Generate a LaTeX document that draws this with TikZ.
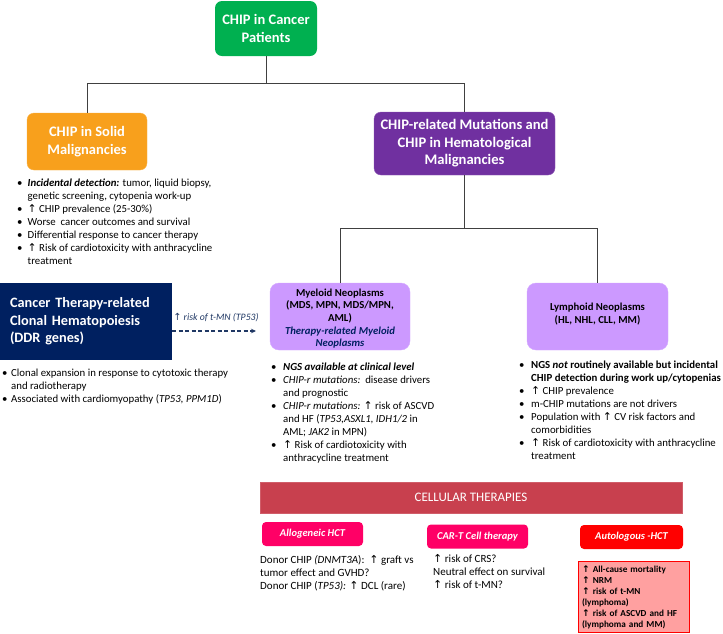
\documentclass[tikz,border=0pt]{standalone}
\usepackage{fontspec}
\setmainfont{Carlito}
\newfontfamily\arrfont{DejaVu Sans}
\newcommand\up{{\arrfont\mdseries\upshape ↑}}
\newcommand\upb{{\arrfont\bfseries\upshape ↑}}
\usetikzlibrary{arrows.meta}
\definecolor{cgreen}{HTML}{00B050}
\definecolor{corange}{HTML}{F8A01C}
\definecolor{cpurple}{HTML}{7030A0}
\definecolor{clav}{HTML}{CC99FF}
\definecolor{cnavy}{HTML}{002060}
\definecolor{cbar}{HTML}{C8404E}
\definecolor{cpink}{HTML}{FF0066}
\definecolor{cred}{HTML}{FF0000}
\definecolor{cautofill}{HTML}{FFA0A0}
\definecolor{linegray}{HTML}{404040}
\definecolor{darkblue}{HTML}{203864}
\begin{document}
\begin{tikzpicture}[x=1pt,y=-1pt,
  conn/.style={draw=linegray, line width=1pt},
  tbox/.style={rounded corners=7pt, text=white, font=\bfseries\fontsize{14.5}{17.5}\selectfont, align=center, inner sep=0pt},
  lbox/.style={rounded corners=9pt, fill=clav, draw=clav!85!white, inner sep=0pt, minimum height=67pt},
  ltext/.style={font=\bfseries\fontsize{10.7}{12.7}\selectfont, align=center, inner sep=0pt},
  blist/.style={anchor=north west, inner sep=0pt, font=\fontsize{10.8}{13}\selectfont, align=left},
  hbox/.style={rounded corners=4pt, text=white, font=\bfseries\itshape\fontsize{10.5}{12}\selectfont, inner sep=0pt, minimum width=101pt, minimum height=24pt},
  plain/.style={anchor=north west, inner sep=0pt, font=\fontsize{11}{13.2}\selectfont, align=left}
]
\useasboundingbox (0,0) rectangle (723,633);

% top level
\node[tbox, fill=cgreen, minimum width=102pt, minimum height=55pt] (top) at (266,28.5) {CHIP in Cancer\\Patients};
\node[tbox, fill=corange, draw=corange!80!white, minimum width=120pt, minimum height=57pt] (solid) at (87,141.5) {CHIP in Solid\\Malignancies};
\node[tbox, fill=cpurple, draw=cpurple!80!white, minimum width=181pt, minimum height=63pt, font=\bfseries\fontsize{14.6}{17.5}\selectfont] (hem) at (464.5,143.5) {CHIP-related Mutations and\\CHIP in Hematological\\Malignancies};

\draw[conn] (top.south) -- ++(0,27) coordinate (j1);
\draw[conn] (solid.north) |- (j1) -| (hem.north);

% myeloid / lymphoid
\node[lbox, minimum width=140pt] (myel) at (340,316.5) {};
\node[ltext] (myeltext) at (340,318.5) {Myeloid Neoplasms\\(MDS, MPN, MDS/MPN,\\AML)\\{\color{cnavy}\itshape Therapy-related Myeloid}\\{\color{cnavy}\itshape Neoplasms}};
\node[lbox, minimum width=141pt] (lymph) at (597.5,316.5) {};
\node[ltext] (lymphtext) at (597.5,314) {Lymphoid Neoplasms\\(HL, NHL, CLL, MM)};

\draw[conn] (hem.south) -- ++(0,53) coordinate (j2);
\draw[conn] (myel.north) |- (j2) -| (lymph.north);

% navy box
\node[fill=cnavy, minimum width=172pt, minimum height=77pt, text width=152pt, inner xsep=10pt, inner ysep=0pt, align=left, text=white, font=\bfseries\fontsize{14.3}{17.5}\selectfont] (ther) at (86,321.5) {Cancer Therapy-related\\Clonal Hematopoiesis\\(DDR genes)};
\coordinate (arrend) at (256,331);
\draw[darkblue, line width=1.2pt, dash pattern=on 4pt off 2.5pt, -{Stealth[length=5pt,width=4.5pt]}] ([yshift=-9.5pt]ther.east) -- (arrend);
\node[inner sep=0pt, text=darkblue, font=\itshape\fontsize{9.8}{11}\selectfont] (arrlab) at (216,318) {\up{} risk of t-MN (TP53)};

% bullet lists
\node[blist] (solidlist) at (17,177) {\begin{tabular}{@{}p{10.5pt}@{}l@{}}
\textbullet & \textbf{\textit{Incidental detection:}} tumor, liquid biopsy,\\
 & genetic screening, cytopenia work-up\\
\textbullet & \up{} CHIP prevalence (25-30\%)\\
\textbullet & Worse\ \ cancer outcomes and survival\\
\textbullet & Differential response to cancer therapy\\
\textbullet & \up{} Risk of cardiotoxicity with anthracycline\\
 & treatment
\end{tabular}};

\node[blist] (therlist) at (2,367) {\begin{tabular}{@{}p{9pt}@{}l@{}}
\textbullet & Clonal expansion in response to cytotoxic therapy\\
 & and radiotherapy\\
\textbullet & Associated with cardiomyopathy (\textit{TP53, PPM1D})
\end{tabular}};

\node[blist] (myellist) at (271,361) {\begin{tabular}{@{}p{12pt}@{}l@{}}
\textbullet & \textbf{\textit{NGS available at clinical level}}\\
\textbullet & \textit{CHIP-r mutations:}\ \ disease drivers\\
 & and prognostic\\
\textbullet & \textit{CHIP-r mutations:} \up{} risk of ASCVD\\
 & and HF (\textit{TP53,ASXL1, IDH1/2} in\\
 & AML; \textit{JAK2} in MPN)\\
\textbullet & \up{} Risk of cardiotoxicity with\\
 & anthracycline treatment
\end{tabular}};

\node[blist] (lymphlist) at (519,359) {\begin{tabular}{@{}p{12pt}@{}l@{}}
\textbullet & \textbf{NGS \textit{not} routinely available but incidental}\\
 & \textbf{CHIP detection during work up/cytopenias}\\
\textbullet & \up{} CHIP prevalence\\
\textbullet & m-CHIP mutations are not drivers\\
\textbullet & Population with \up{} CV risk factors and\\
 & comorbidities\\
\textbullet & \up{} Risk of cardiotoxicity with anthracycline\\
 & treatment
\end{tabular}};

% cellular therapies
\node[fill=cbar, draw=cbar!85!white, minimum width=422pt, minimum height=31pt, inner sep=0pt, text=white, font=\fontsize{13}{15}\selectfont] (cell) at (471,497.5) {CELLULAR THERAPIES};

\node[hbox, fill=cpink] (allo) at (312.5,534) {Allogeneic HCT};
\node[hbox, fill=cpink] (cart) at (477.5,536.5) {CAR-T Cell therapy};
\node[hbox, fill=cred, minimum width=103pt] (auto) at (631.5,537) {Autologous -HCT};

\node[plain] (allotext) at (260,555) {Donor CHIP \textit{(DNMT3A}):\ \ \up{} graft vs\\tumor effect and GVHD?\\Donor CHIP (\textit{TP53):} \up{} DCL (rare)};
\node[plain] (carttext) at (433,554) {\up{} risk of CRS?\\Neutral effect on survival\\\up{} risk of t-MN?};

\node[anchor=north west, fill=cautofill, draw=cred, line width=1.2pt, minimum width=111pt, minimum height=71pt, text width=104pt, inner xsep=3.5pt, inner ysep=3pt, align=left, font=\bfseries\fontsize{9.2}{11}\selectfont] (autotext) at (578,561) {\upb{} All-cause mortality\\\upb{} NRM\\\upb{} risk of t-MN\\(lymphoma)\\\upb{} risk of ASCVD and HF\\(lymphoma and MM)};
\end{tikzpicture}
\end{document}
